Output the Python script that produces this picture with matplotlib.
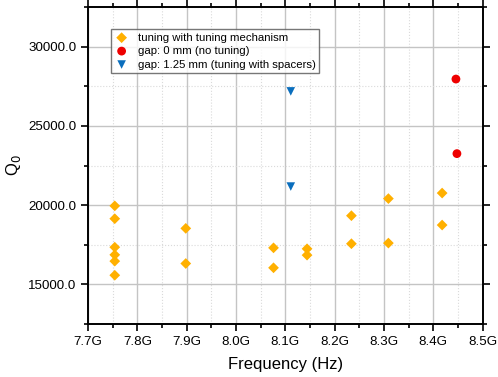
import numpy as np
import matplotlib
matplotlib.use("Agg")
import matplotlib.pyplot as plt
from matplotlib.ticker import MultipleLocator, FuncFormatter

plt.rcParams['font.family'] = ['Liberation Sans', 'DejaVu Sans']

# tuning with tuning mechanism (GHz, Q0)
freq_tuned = [7.754, 7.754, 7.754, 7.754, 7.754, 7.754,
              7.898, 7.898, 8.076, 8.076, 8.144, 8.144,
              8.234, 8.234, 8.309, 8.309, 8.418, 8.418]
q_tuned = [19950, 19140, 17340, 16860, 16460, 15570,
           18530, 16310, 17300, 16040, 17240, 16840,
           19330, 17560, 20410, 17600, 20760, 18740]

# gap 0 mm
freq_gap0 = [8.446, 8.448]
q_gap0 = [27960, 23250]

# gap 1.25 mm
freq_gap125 = [8.111, 8.111]
q_gap125 = [27180, 21170]

fig, ax = plt.subplots(figsize=(4.98, 3.77), dpi=100)
fig.subplots_adjust(left=0.177, right=0.969, top=0.981, bottom=0.141)

ax.scatter(freq_tuned, q_tuned, marker='D', s=30, color='#FFB000', edgecolors='none',
           label='tuning with tuning mechanism', zorder=3)
ax.scatter(freq_gap0, q_gap0, marker='o', s=40, color='#EE0000', edgecolors='none',
           label='gap: 0 mm (no tuning)', zorder=3)
ax.scatter(freq_gap125, q_gap125, marker='v', s=38, color='#0A6EBD', edgecolors='none',
           label='gap: 1.25 mm (tuning with spacers)', zorder=3)

ax.set_xlim(7.7, 8.5)
ax.set_ylim(12500, 32500)
ax.xaxis.set_major_locator(MultipleLocator(0.1))
ax.xaxis.set_minor_locator(MultipleLocator(0.05))
ax.yaxis.set_major_locator(MultipleLocator(5000))
ax.yaxis.set_minor_locator(MultipleLocator(2500))
ax.xaxis.set_major_formatter(FuncFormatter(lambda v, p: f"{v:.1f}G"))
ax.yaxis.set_major_formatter(FuncFormatter(lambda v, p: f"{v:.1f}"))

ax.grid(which='major', color='#c4c4c4', linewidth=1.0, zorder=0)
ax.grid(which='minor', color='#dadada', linewidth=0.8, linestyle=':', zorder=0)
ax.set_axisbelow(True)

for s in ax.spines.values():
    s.set_linewidth(1.4)
ax.tick_params(which='both', direction='out', top=True, right=True, width=1.2, labelsize=9.6)
ax.tick_params(which='major', length=5)
ax.tick_params(which='minor', length=3)

ax.set_xlabel('Frequency (Hz)', fontsize=12, labelpad=7)
ax.set_ylabel('Q$_0$', fontsize=12)

leg = ax.legend(loc='upper left', bbox_to_anchor=(0.043, 0.95), fontsize=8.2, frameon=True,
                fancybox=False, edgecolor='#555555', handletextpad=0.8, borderpad=0.35,
                labelspacing=0.3, handlelength=1.2)
leg.get_frame().set_linewidth(1.0)

fig.savefig('out.png', dpi=100)
